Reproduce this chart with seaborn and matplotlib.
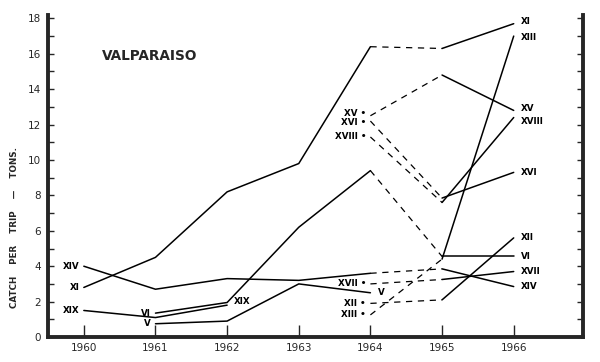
import numpy as np
import pandas as pd
import matplotlib
matplotlib.use("Agg")
import matplotlib.pyplot as plt
from matplotlib.ticker import MultipleLocator
import seaborn as sns

# --- data (catch per trip, tons) ---
years_xi = [1960, 1961, 1962, 1963, 1964, 1965, 1966]
xi = [2.8, 4.5, 8.2, 9.8, 16.4, 16.3, 17.7]
years_xiv = [1960, 1961, 1962, 1963, 1964, 1965, 1966]
xiv = [4.0, 2.7, 3.3, 3.2, 3.6, 3.85, 2.85]
years_xix = [1960, 1961, 1962]
xix = [1.5, 1.1, 1.8]
years_vi = [1961, 1962, 1963, 1964, 1965, 1966]
vi = [1.35, 1.95, 6.2, 9.4, 4.55, 4.55]
years_v = [1961, 1962, 1963, 1964]
v = [0.75, 0.9, 3.0, 2.5]
years_late = [1964, 1965, 1966]
xiii = [1.25, 4.4, 17.0]
xii = [1.9, 2.1, 5.6]
xvii = [3.0, 3.25, 3.7]
xv = [12.5, 14.8, 12.8]
xvi = [12.2, 7.85, 9.3]
xviii = [11.3, 7.6, 12.4]

series_names = ["XI", "XIV", "XIX", "VI", "V", "XIII", "XII", "XVII", "XV", "XVI", "XVIII"]
series_years = [years_xi, years_xiv, years_xix, years_vi, years_v,
                years_late, years_late, years_late, years_late, years_late, years_late]
series_vals = [xi, xiv, xix, vi, v, xiii, xii, xvii, xv, xvi, xviii]

# labels at the start of a series (left of first point) and at the end (right of last)
start_labels = ["XIV", "XI", "XIX", "VI", "V", "XV", "XVI", "XVIII", "XVII", "XII", "XIII"]
end_labels = ["XI", "XIII", "XV", "XVIII", "XVI", "XII", "VI", "XVII", "XIV", "XIX", "V"]

# --- plot ---
sns.set_style("ticks")
plt.rcParams["font.family"] = ["DejaVu Sans"]

fig = plt.figure(figsize=(6.0, 3.62), dpi=100)
ax = fig.add_axes([0.08, 0.069, 0.892, 0.89])

for name, yrs, vals in zip(series_names, series_years, series_vals):
    d = pd.DataFrame({"year": yrs, "val": vals})
    # 1964 -> 1965 is drawn dashed, everything else solid
    before = d[d.year <= 1964]
    after = d[d.year >= 1965]
    gap = d[d.year.isin([1964, 1965])]
    for part in (before, after):
        if len(part) > 1:
            sns.lineplot(data=part, x="year", y="val", ax=ax, color="black",
                         lw=1.1, estimator=None, sort=False)
    if len(gap) == 2:
        sns.lineplot(data=gap, x="year", y="val", ax=ax, color="black",
                     lw=0.9, estimator=None, sort=False,
                     linestyle=(0, (5, 4.5)))

lookup = {n: (y, val) for n, y, val in zip(series_names, series_years, series_vals)}
lab_kw = dict(fontsize=6.3, fontweight="bold", va="center", color="black")
for name in start_labels:
    y0, v0 = lookup[name][0][0], lookup[name][1][0]
    txt = name + (" \u2022" if y0 == 1964 else "")
    dy = {"XV": 0.1, "XVI": -0.1}.get(name, 0)
    ax.text(y0 - 0.06, v0 + dy, txt, ha="right", **lab_kw)
for name in end_labels:
    y1, v1 = lookup[name][0][-1], lookup[name][1][-1]
    dy = {"XIX": 0.2, "XI": 0.15, "XIII": -0.1, "XV": 0.1, "XVIII": -0.2}.get(name, 0)
    ax.text(y1 + 0.1, v1 + dy, name, ha="left", **lab_kw)

ax.text(1960.25, 15.9, "VALPARAISO", fontsize=9.8,
        fontweight="bold", ha="left", va="center")

ax.set_xlim(1959.5, 1966.97)
ax.set_ylim(0, 18.2)
ax.set_xticks([1960, 1961, 1962, 1963, 1964, 1965, 1966])
ax.set_yticks(np.arange(0, 19, 2))
ax.yaxis.set_minor_locator(MultipleLocator(1))
ax.set_xlabel("")
ax.set_ylabel("")

ax.spines["top"].set_visible(False)
for s in ("left", "bottom", "right"):
    ax.spines[s].set_linewidth(2.8)
ax.tick_params(axis="x", direction="in", length=9, width=1, labelsize=7.5, pad=4)
ax.tick_params(axis="y", which="both", direction="in", length=4, width=1,
               labelsize=7.5, left=True, right=True, pad=5)

fig.text(15 / 600, 1 - 227 / 362, "CATCH    PER    TRIP    \u2014    TONS.",
         rotation=90, ha="center", va="center", fontsize=6.3, fontweight="bold")

fig.savefig("out.png", dpi=100)
